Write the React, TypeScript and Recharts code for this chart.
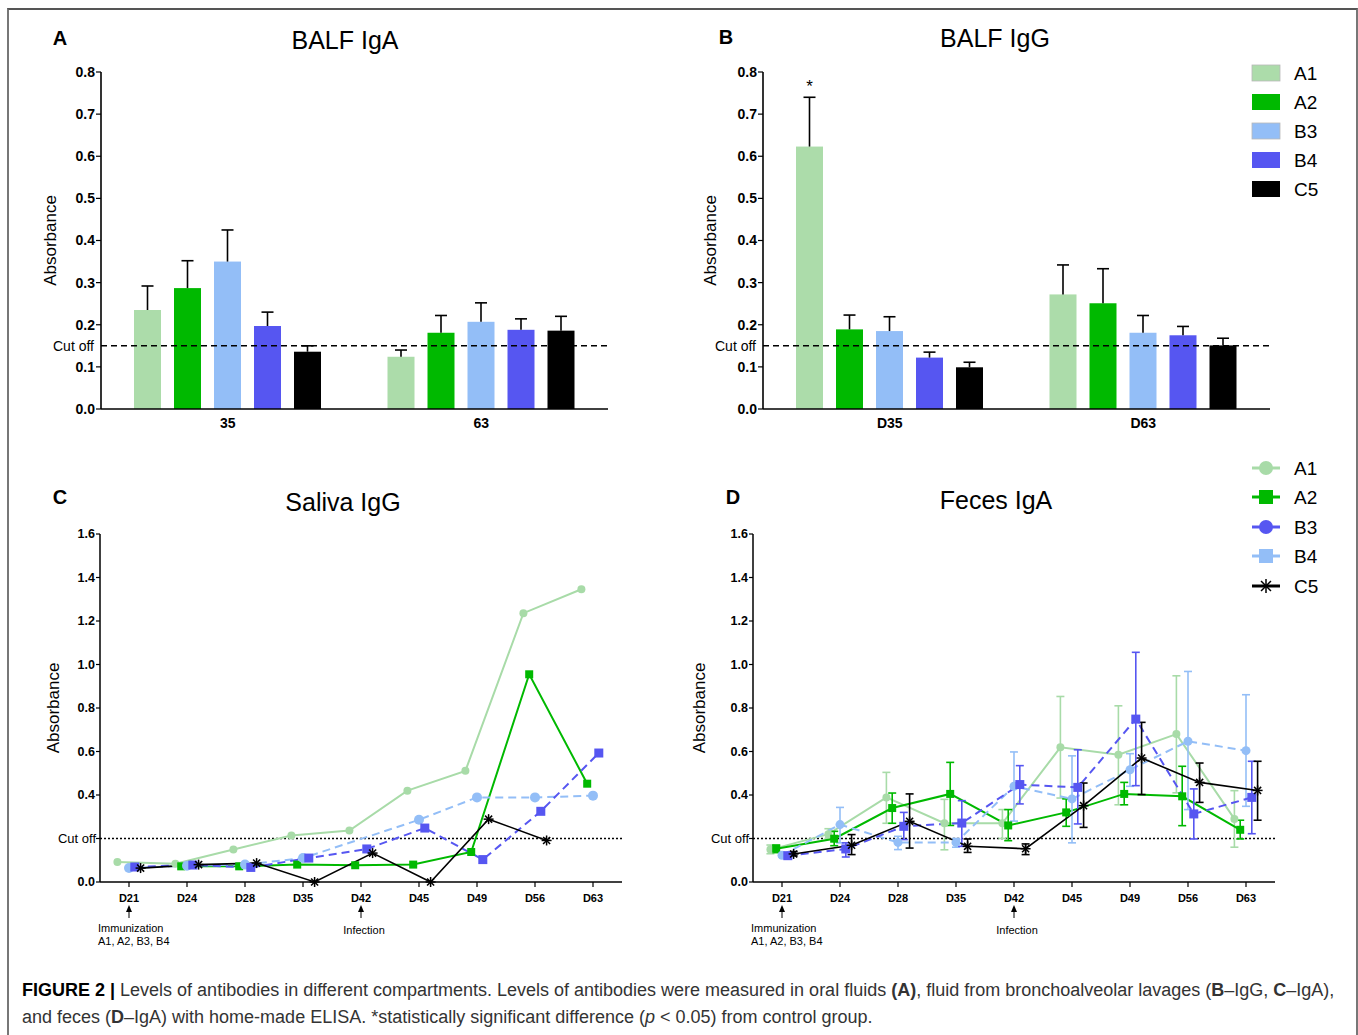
import React from "react"
import { BarChart, Bar, LineChart, Line, XAxis, YAxis, ReferenceLine, ErrorBar } from "recharts"

const FONT = '"Liberation Sans", Arial, Helvetica, sans-serif'

const groups = ["A1", "A2", "B3", "B4", "C5"]
const groupColors = ["#acdcaa", "#00b900", "#93bef7", "#5656f1", "#000000"]

// BALF IgA (A)
const balfIgaDays = ["35", "63"]
const balfIgaMeans = [
  [0.235, 0.124],
  [0.287, 0.181],
  [0.35, 0.207],
  [0.197, 0.188],
  [0.136, 0.186],
]
const balfIgaSem = [
  [0.057, 0.016],
  [0.065, 0.041],
  [0.075, 0.045],
  [0.033, 0.026],
  [0.014, 0.034],
]

// BALF IgG (B)
const balfIggDays = ["D35", "D63"]
const balfIggMeans = [
  [0.623, 0.272],
  [0.189, 0.251],
  [0.185, 0.181],
  [0.122, 0.175],
  [0.099, 0.151],
]
const balfIggSem = [
  [0.117, 0.07],
  [0.034, 0.082],
  [0.034, 0.041],
  [0.013, 0.021],
  [0.012, 0.017],
]
const balfIggSig = [
  ["*", ""],
  ["", ""],
  ["", ""],
  ["", ""],
  ["", ""],
]
const balfCutoff = 0.15

// Saliva IgG (C) and Feces IgA (D)
const lineDays = ["D21", "D24", "D28", "D35", "D42", "D45", "D49", "D56", "D63"]
const dayNotes: Record<string, string[]> = {
  D21: ["Immunization", "A1, A2, B3, B4"],
  D42: ["Infection"],
}
const lineCutoff = 0.2

const salivaA1 = [0.092, 0.084, 0.149, 0.214, 0.237, 0.42, 0.511, 1.236, 1.346]
const salivaA2 = [null, 0.072, 0.072, 0.08, 0.077, 0.08, 0.138, 0.955, 0.452]
const salivaB3 = [0.064, 0.075, 0.08, 0.11, null, 0.286, 0.389, 0.389, 0.397]
const salivaB4 = [0.069, 0.078, 0.067, 0.11, 0.152, 0.248, 0.103, 0.325, 0.593]
const salivaC5 = [0.064, 0.08, 0.087, 0.0, 0.133, 0.0, 0.289, 0.191, null]

const fecesA1 = [0.149, 0.22, 0.389, 0.27, 0.27, 0.619, 0.585, 0.68, 0.29]
const fecesA1Low = [0.13, 0.2, 0.27, 0.148, 0.2, 0.386, 0.355, 0.41, 0.16]
const fecesA1High = [0.17, 0.245, 0.504, 0.38, 0.333, 0.853, 0.81, 0.948, 0.42]
const fecesA2 = [0.153, 0.199, 0.34, 0.405, 0.26, 0.32, 0.405, 0.394, 0.24]
const fecesA2Low = [0.135, 0.167, 0.27, 0.26, 0.19, 0.256, 0.355, 0.259, 0.198]
const fecesA2High = [0.17, 0.233, 0.409, 0.55, 0.333, 0.382, 0.458, 0.532, 0.284]
const fecesB3 = [0.123, 0.264, 0.182, 0.182, 0.44, 0.382, 0.516, 0.647, 0.604]
const fecesB3Low = [0.115, 0.18, 0.149, 0.16, 0.28, 0.18, 0.44, 0.333, 0.348]
const fecesB3High = [0.13, 0.343, 0.21, 0.2, 0.598, 0.58, 0.59, 0.968, 0.861]
const fecesB4 = [0.121, 0.152, 0.256, 0.271, 0.448, 0.435, 0.749, 0.313, 0.389]
const fecesB4Low = [0.11, 0.115, 0.195, 0.164, 0.359, 0.267, 0.443, 0.198, 0.222]
const fecesB4High = [0.13, 0.18, 0.32, 0.374, 0.535, 0.608, 1.056, 0.428, 0.555]
const fecesC5 = [0.129, 0.169, 0.279, 0.164, 0.153, 0.351, 0.57, 0.458, 0.421]
const fecesC5Low = [0.12, 0.126, 0.156, 0.136, 0.126, 0.251, 0.402, 0.366, 0.284]
const fecesC5High = [0.14, 0.218, 0.405, 0.198, 0.175, 0.455, 0.734, 0.547, 0.555]

const lineStyles = [
  { color: "#a8dba8", shape: "circle", dash: undefined, width: 2 },
  { color: "#00b900", shape: "square", dash: undefined, width: 2 },
  { color: "#93bef7", shape: "circle", dash: "8 5", width: 2 },
  { color: "#5656f1", shape: "square", dash: "8 5", width: 2 },
  { color: "#000000", shape: "star", dash: undefined, width: 1.6 },
]
const seriesOffsets = [-0.2, -0.1, 0, 0.1, 0.2]

const axisTick = { fill: "#000", fontSize: 14, fontWeight: "bold", fontFamily: FONT }

const Marker = ({ cx, cy, shape, color, size }: any) => {
  if (cx == null || cy == null) return <g />
  if (shape === "circle") return <circle cx={cx} cy={cy} r={size / 2} fill={color} />
  if (shape === "square")
    return <rect x={cx - size / 2} y={cy - size / 2} width={size} height={size} fill={color} />
  const r = size / 2
  return (
    <g stroke={color} strokeWidth={1.5}>
      {[0, 45, 90, 135].map((a) => {
        const t = (a * Math.PI) / 180
        return (
          <line key={a} x1={cx - r * Math.cos(t)} y1={cy - r * Math.sin(t)} x2={cx + r * Math.cos(t)} y2={cy + r * Math.sin(t)} />
        )
      })}
    </g>
  )
}

const BarWithError = (p: any) => {
  const { x, y, width, height, fill, payload, g } = p
  const mean = payload[g]
  const err = payload[g + "e"]
  const k = mean ? height / mean : 0
  const top = y - err * k
  const cx = x + width / 2
  return (
    <g>
      <rect x={x} y={y} width={width} height={height} fill={fill} />
      <line x1={cx} y1={y} x2={cx} y2={top} stroke="#000" strokeWidth={1.6} />
      <line x1={cx - 6} y1={top} x2={cx + 6} y2={top} stroke="#000" strokeWidth={1.6} />
      {payload[g + "s"] ? (
        <text x={cx} y={top - 5} textAnchor="middle" fontSize={17} fontFamily={FONT} fill="#000">
          {payload[g + "s"]}
        </text>
      ) : null}
    </g>
  )
}

const BarPanel = ({ cats, means, sems, sig, left, labelOffset }: any) => {
  const rows = cats.map((c: string, i: number) => {
    const r: any = { cat: c }
    groups.forEach((g, k) => {
      r[g] = means[k][i]
      r[g + "e"] = sems[k][i]
      r[g + "s"] = sig ? sig[k][i] : ""
    })
    return r
  })
  return (
    <div style={{ position: "absolute", left, top: 60 }}>
      <BarChart width={600} height={380} data={rows} margin={{ top: 12, right: 22, bottom: 11, left: 0 }} barSize={27} barGap={13}>
        <XAxis dataKey="cat" tickLine={false} axisLine={{ stroke: "#000", strokeWidth: 1.6 }} tick={axisTick} tickMargin={3} height={20} />
        <YAxis
          type="number"
          domain={[0, 0.8]}
          ticks={[0, 0.1, 0.2, 0.3, 0.4, 0.5, 0.6, 0.7, 0.8]}
          tickFormatter={(v: number) => v.toFixed(1)}
          width={71}
          tick={axisTick}
          tickSize={5}
          tickMargin={1}
          axisLine={{ stroke: "#000", strokeWidth: 1.6 }}
          tickLine={{ stroke: "#000", strokeWidth: 1.2 }}
          label={{ value: "Absorbance", angle: -90, position: "insideLeft", offset: labelOffset, style: { textAnchor: "middle", fontSize: 17, fontFamily: FONT, fill: "#000" } }}
        />
        {groups.map((g, k) => (
          <Bar key={g} dataKey={g} fill={groupColors[k]} isAnimationActive={false} shape={(p: any) => <BarWithError {...p} g={g} />} />
        ))}
        <ReferenceLine
          y={balfCutoff}
          stroke="#000"
          strokeWidth={1.5}
          strokeDasharray="6 4"
          label={{ value: "Cut off", position: "left", offset: 7, fontSize: 14, fontFamily: FONT, fill: "#000" }}
        />
      </BarChart>
    </div>
  )
}

const DayTick = (props: any) => {
  const { x, y, payload } = props
  const day = lineDays[payload.value]
  const note = dayNotes[day]
  return (
    <g fontFamily={FONT}>
      <text x={x} y={y + 13} textAnchor="middle" fontWeight="bold" fontSize={11} fill="#000">
        {day}
      </text>
      {note ? (
        <g>
          <line x1={x} y1={y + 20} x2={x} y2={y + 29} stroke="#000" strokeWidth={1} />
          <path d={`M${x - 3},${y + 23} L${x},${y + 16} L${x + 3},${y + 23} Z`} fill="#000" />
          {note.length > 1 ? (
            <>
              <text x={x - 31} y={y + 43} fontSize={11} fill="#000">{note[0]}</text>
              <text x={x - 31} y={y + 56} fontSize={11} fill="#000">{note[1]}</text>
            </>
          ) : (
            <text x={x + 3} y={y + 45} textAnchor="middle" fontSize={11} fill="#000">{note[0]}</text>
          )}
        </g>
      ) : null}
    </g>
  )
}

const LinePanel = ({ series, low, high, left, labelOffset, sizes }: any) => {
  const sets = series.map((vals: (number | null)[], k: number) =>
    vals
      .map((v, i) => {
        const row: any = { x: i + seriesOffsets[k], y: v }
        if (low && v != null) row.err = [v - low[k][i], high[k][i] - v]
        return row
      })
      .filter((r: any) => r.y != null)
  )
  return (
    <div style={{ position: "absolute", left, top: 520 }}>
      <LineChart width={610} height={432} margin={{ top: 14, right: 18, bottom: 0, left: 0 }}>
        <XAxis
          type="number"
          dataKey="x"
          domain={[-0.5, 8.5]}
          ticks={[0, 1, 2, 3, 4, 5, 6, 7, 8]}
          interval={0}
          height={70}
          tickSize={5}
          tickMargin={2}
          axisLine={{ stroke: "#000", strokeWidth: 1.5 }}
          tickLine={{ stroke: "#000", strokeWidth: 1.2 }}
          tick={(p: any) => <DayTick {...p} />}
        />
        <YAxis
          type="number"
          domain={[0, 1.6]}
          ticks={[0, 0.2, 0.4, 0.6, 0.8, 1.0, 1.2, 1.4, 1.6]}
          tickFormatter={(v: number) => (Math.abs(v - lineCutoff) < 1e-9 ? "" : v.toFixed(1))}
          width={70}
          tick={{ ...axisTick, fontSize: 12.5 }}
          tickSize={4}
          tickMargin={1}
          axisLine={{ stroke: "#000", strokeWidth: 1.5 }}
          tickLine={{ stroke: "#000", strokeWidth: 1.2 }}
          label={{ value: "Absorbance", angle: -90, position: "insideLeft", offset: labelOffset, style: { textAnchor: "middle", fontSize: 17, fontFamily: FONT, fill: "#000" } }}
        />
        <ReferenceLine
          y={lineCutoff}
          stroke="#000"
          strokeWidth={1.3}
          strokeDasharray="2 2"
          label={{ value: "Cut off", position: "left", offset: 4, fontSize: 13, fontFamily: FONT, fill: "#000" }}
        />
        {sets.map((data: any[], k: number) => {
          const st = lineStyles[k]
          return (
            <Line
              key={groups[k]}
              data={data}
              dataKey="y"
              type="linear"
              stroke={st.color}
              strokeWidth={st.width}
              strokeDasharray={st.dash}
              isAnimationActive={false}
              activeDot={false}
              dot={(p: any) => <Marker key={p.index} cx={p.cx} cy={p.cy} shape={st.shape} color={st.color} size={sizes[k]} />}
            >
              {low ? <ErrorBar dataKey="err" width={4} stroke={st.color} strokeWidth={1.6} direction="y" /> : null}
            </Line>
          )
        })}
      </LineChart>
    </div>
  )
}

const legendRows = [73, 102, 131, 160, 189]
const lineLegendRows = [468, 497, 527, 556, 586]
const lineLegendShapes = [
  { color: "#a8dba8", shape: "circle" },
  { color: "#00b900", shape: "square" },
  { color: "#5656f1", shape: "circle" },
  { color: "#93bef7", shape: "square" },
  { color: "#000000", shape: "star" },
]

const Overlay = () => (
  <svg width={1358} height={1035} style={{ position: "absolute", left: 0, top: 0, pointerEvents: "none" }} fontFamily={FONT}>
    <text x={60} y={45} textAnchor="middle" fontSize={20} fontWeight="bold">A</text>
    <text x={345} y={49} textAnchor="middle" fontSize={25}>BALF IgA</text>
    <text x={726} y={44} textAnchor="middle" fontSize={20} fontWeight="bold">B</text>
    <text x={995} y={47} textAnchor="middle" fontSize={25}>BALF IgG</text>
    <text x={60} y={504} textAnchor="middle" fontSize={20} fontWeight="bold">C</text>
    <text x={343} y={511} textAnchor="middle" fontSize={25}>Saliva IgG</text>
    <text x={733} y={504} textAnchor="middle" fontSize={20} fontWeight="bold">D</text>
    <text x={996} y={509} textAnchor="middle" fontSize={25}>Feces IgA</text>
    {groups.map((g, k) => (
      <g key={g}>
        <rect x={1252} y={legendRows[k] - 8} width={28} height={16} fill={groupColors[k]} stroke={k === 0 || k === 2 ? "#b8b8b8" : "none"} strokeWidth={0.8} />
        <text x={1294} y={legendRows[k] + 7} fontSize={19}>{g}</text>
      </g>
    ))}
    {groups.map((g, k) => (
      <g key={"l" + g}>
        <line x1={1252} y1={lineLegendRows[k]} x2={1280} y2={lineLegendRows[k]} stroke={lineLegendShapes[k].color} strokeWidth={3} />
        <Marker cx={1266} cy={lineLegendRows[k]} shape={lineLegendShapes[k].shape} color={lineLegendShapes[k].color} size={14} />
        <text x={1294} y={lineLegendRows[k] + 7} fontSize={19}>{g}</text>
      </g>
    ))}
  </svg>
)

export default function App() {
  return (
    <div style={{ position: "absolute", left: 0, top: 0, width: 1358, height: 1035, background: "#fff", overflow: "hidden", fontFamily: FONT }}>
      <div style={{ position: "absolute", left: 7, top: 8, width: 1347, height: 1040, borderTop: "2px solid #555", borderLeft: "2px solid #777", borderRight: "2px solid #777" }} />
      <BarPanel cats={balfIgaDays} means={balfIgaMeans} sems={balfIgaSem} left={30} labelOffset={20} />
      <BarPanel cats={balfIggDays} means={balfIggMeans} sems={balfIggSem} sig={balfIggSig} left={692} labelOffset={18} />
      <LinePanel series={[salivaA1, salivaA2, salivaB3, salivaB4, salivaC5]} left={30} labelOffset={23} sizes={[8, 8, 10, 9, 10]} />
      <LinePanel
        series={[fecesA1, fecesA2, fecesB3, fecesB4, fecesC5]}
        low={[fecesA1Low, fecesA2Low, fecesB3Low, fecesB4Low, fecesC5Low]}
        high={[fecesA1High, fecesA2High, fecesB3High, fecesB4High, fecesC5High]}
        left={683}
        labelOffset={16}
        sizes={[8, 8, 9, 9, 10]}
      />
      <Overlay />
      <div style={{ position: "absolute", left: 22, top: 977, fontSize: 18, lineHeight: "27px", color: "#333", whiteSpace: "nowrap" }}>
        <div>
          <b style={{ color: "#000" }}>FIGURE 2 |</b> Levels of antibodies in different compartments. Levels of antibodies were measured in oral fluids <b>(A)</b>, fluid from bronchoalveolar lavages (<b>B</b>–IgG, <b>C</b>–IgA),
        </div>
        <div>
          and feces (<b>D</b>–IgA) with home-made ELISA. *statistically significant difference (<i>p</i> &lt; 0.05) from control group.
        </div>
      </div>
    </div>
  )
}
